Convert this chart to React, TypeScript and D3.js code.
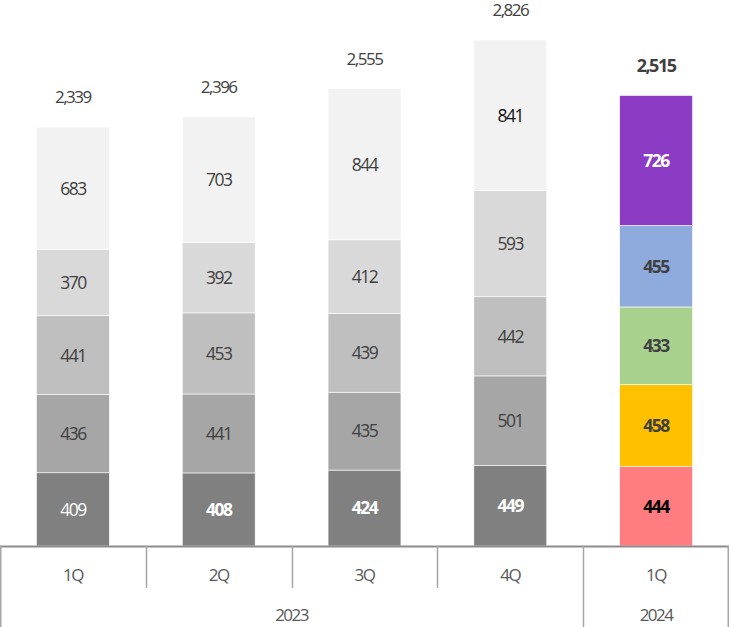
import React from "react";
import * as d3 from "d3";

const quarters = ["1Q", "2Q", "3Q", "4Q", "1Q"];
const years = ["2023", "2024"];
const yearSpans = [4, 1];
const seg1 = [409, 408, 424, 449, 444];
const seg2 = [436, 441, 435, 501, 458];
const seg3 = [441, 453, 439, 442, 433];
const seg4 = [370, 392, 412, 593, 455];
const seg5 = [683, 703, 844, 841, 726];
const totals = [2339, 2396, 2555, 2826, 2515];

const W = 729;
const H = 627;
const BASE = 546;
const grayColors = ["#808080", "#a6a6a6", "#bfbfbf", "#d9d9d9", "#f2f2f2"];
const hiColors = ["#ff7c80", "#ffc000", "#a9d18e", "#8faadc", "#8b3bc4"];
const FONT = "'Open Sans', 'Noto Sans', sans-serif";

function labelStyle(si: number, ci: number) {
  const hi = ci === 4;
  if (si === 0) {
    if (hi) return { fill: "#000000", weight: 700 };
    return { fill: "#ffffff", weight: ci === 0 ? 400 : 700 };
  }
  if (si === 4) {
    if (hi) return { fill: "#ffffff", weight: 700 };
    return { fill: ci === 3 ? "#111111" : "#404040", weight: 400 };
  }
  return { fill: "#404040", weight: hi ? 700 : 400 };
}

export default function App() {
  const series = [seg1, seg2, seg3, seg4, seg5];
  const rows = quarters.map((q, i) => {
    const o: any = { i };
    series.forEach((s, k) => (o["s" + k] = s[i]));
    return o;
  });
  const keys = series.map((_, k) => "s" + k);
  const stacked = d3.stack().keys(keys)(rows);

  const x = d3
    .scaleBand<number>()
    .domain(quarters.map((_, i) => i))
    .range([0, W])
    .paddingInner(0.5)
    .paddingOuter(0.25);
  const y = d3.scaleLinear().domain([0, d3.max(totals)!]).range([BASE, 40]);
  const step = x.step();

  let cum = 0;
  const yearCells = years.map((yr, k) => {
    const start = cum;
    cum += yearSpans[k];
    return { yr, x0: start * step, x1: cum * step };
  });

  return (
    <svg width={W} height={H} style={{ position: "absolute", left: 0, top: 0, fontFamily: FONT }}>
      {stacked.map((layer, si) =>
        layer.map((d, ci) => {
          const x0 = x(ci)!;
          const y0 = y(d[1]);
          const h = y(d[0]) - y(d[1]);
          const st = labelStyle(si, ci);
          return (
            <g key={si + "-" + ci}>
              <rect
                x={x0}
                y={y0}
                width={x.bandwidth()}
                height={h}
                fill={ci === 4 ? hiColors[si] : grayColors[si]}
                stroke="#ffffff"
                strokeWidth={0.6}
              />
              <text
                x={x0 + x.bandwidth() / 2}
                y={y0 + h / 2}
                dy="0.36em"
                textAnchor="middle"
                fontSize={17.5}
                letterSpacing={-1.5}
                fill={st.fill}
                fontWeight={st.weight}
              >
                {series[si][ci]}
              </text>
            </g>
          );
        })
      )}
      {totals.map((t, ci) => (
        <text
          key={"t" + ci}
          x={x(ci)! + x.bandwidth() / 2}
          y={y(d3.sum(series, (s) => s[ci])) - 30}
          dy="0.36em"
          textAnchor="middle"
          fontSize={ci === 4 ? 18 : 17}
          letterSpacing={-1.5}
          fill="#404040"
          fontWeight={ci === 4 ? 700 : 400}
        >
          {d3.format(",")(t)}
        </text>
      ))}
      <line x1={0} x2={W} y1={BASE + 0.5} y2={BASE + 0.5} stroke="#8c8c8c" strokeWidth={2} />
      {quarters.map((q, i) => (
        <text
          key={"q" + i}
          x={x(i)! + x.bandwidth() / 2}
          y={575}
          dy="0.36em"
          textAnchor="middle"
          fontSize={17}
          letterSpacing={-1.5}
          fill="#595959"
        >
          {q}
        </text>
      ))}
      {quarters.map((_, i) =>
        i === 0 ? null : (
          <line
            key={"v" + i}
            x1={Math.round(i * step) + 0.5}
            x2={Math.round(i * step) + 0.5}
            y1={BASE}
            y2={i === 4 ? H : 588}
            stroke="#a6a6a6"
            strokeWidth={1.5}
          />
        )
      )}
      <line x1={0.75} x2={0.75} y1={BASE} y2={H} stroke="#a6a6a6" strokeWidth={1.5} />
      <line x1={W - 0.75} x2={W - 0.75} y1={BASE} y2={H} stroke="#a6a6a6" strokeWidth={1.5} />
      {yearCells.map((c) => (
        <text
          key={"y" + c.yr}
          x={(c.x0 + c.x1) / 2}
          y={615}
          dy="0.36em"
          textAnchor="middle"
          fontSize={17}
          letterSpacing={-1.5}
          fill="#595959"
        >
          {c.yr}
        </text>
      ))}
    </svg>
  );
}
